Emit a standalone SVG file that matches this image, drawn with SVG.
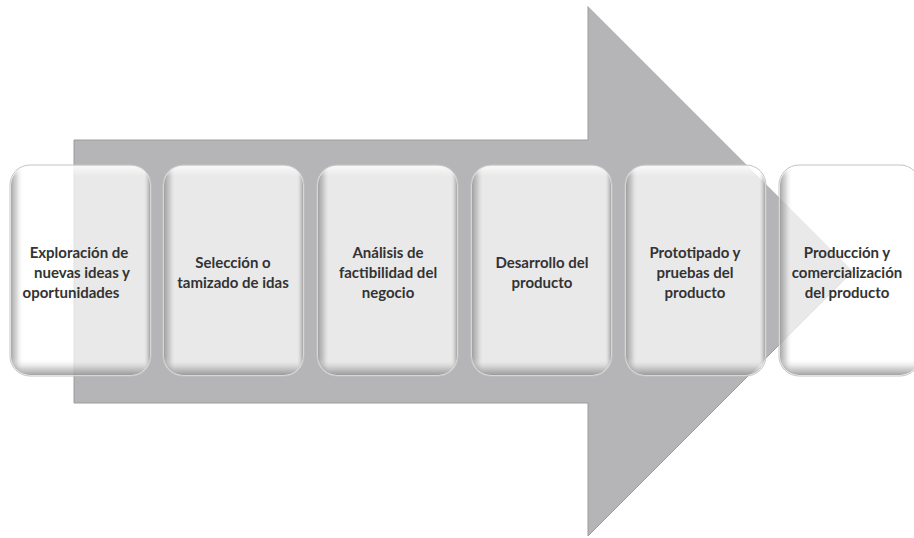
<svg xmlns="http://www.w3.org/2000/svg" width="914" height="538" viewBox="0 0 914 538">
  <defs>
    <linearGradient id="sideShade" x1="0" y1="0" x2="1" y2="0">
      <stop offset="0" stop-color="#6e6e6e" stop-opacity="0.6"/>
      <stop offset="0.04" stop-color="#8e8e8e" stop-opacity="0.35"/>
      <stop offset="0.09" stop-color="#ffffff" stop-opacity="0"/>
      <stop offset="0.95" stop-color="#ffffff" stop-opacity="0"/>
      <stop offset="0.985" stop-color="#8a8a8a" stop-opacity="0.35"/>
      <stop offset="1" stop-color="#6e6e6e" stop-opacity="0.55"/>
    </linearGradient>
    <linearGradient id="vertShade" x1="0" y1="0" x2="0" y2="1">
      <stop offset="0" stop-color="#ffffff" stop-opacity="0.7"/>
      <stop offset="0.05" stop-color="#ffffff" stop-opacity="0"/>
      <stop offset="0.92" stop-color="#ffffff" stop-opacity="0"/>
      <stop offset="0.97" stop-color="#8c8c8c" stop-opacity="0.4"/>
      <stop offset="1" stop-color="#666666" stop-opacity="0.6"/>
    </linearGradient>
    <style>
      .arrow { fill: #b5b5b7; stroke: #9c9c9e; stroke-width: 1; }
      .box { fill: #ffffff; fill-opacity: 0.7; stroke: #c4c4c4; stroke-width: 1; }
      .side { fill: url(#sideShade); }
      .vert { fill: url(#vertShade); }
      .lbl { font-family: Lato, "Open Sans", "Liberation Sans", sans-serif; font-weight: 700; font-size: 15px; fill: #333333; text-anchor: middle; }
    </style>
  </defs>

  <g id="arrow">
    <polygon class="arrow" points="74,140 588,140 588,6 853,271 588,536 588,403 74,403"/>
    <line x1="588" y1="6" x2="853" y2="271" stroke="#e8e8e8" stroke-width="1"/>
  </g>

  <g id="connectors"></g>

  <g id="n1">
    <rect class="box" x="10" y="165" width="141" height="211" rx="20"/>
    <rect class="side" x="11" y="166" width="139" height="209" rx="19"/>
    <rect class="vert" x="11" y="166" width="139" height="209" rx="19"/>
    <text class="lbl"><tspan x="79" y="258">Exploración de</tspan><tspan x="82" y="278">nuevas ideas y</tspan><tspan x="71" y="298">oportunidades</tspan></text>
  </g>

  <g id="n2">
    <rect class="box" x="163" y="165" width="141" height="211" rx="20"/>
    <rect class="side" x="164" y="166" width="139" height="209" rx="19"/>
    <rect class="vert" x="164" y="166" width="139" height="209" rx="19"/>
    <text class="lbl"><tspan x="233" y="268">Selección o</tspan><tspan x="233" y="288">tamizado de idas</tspan></text>
  </g>

  <g id="n3">
    <rect class="box" x="317" y="165" width="141" height="211" rx="20"/>
    <rect class="side" x="318" y="166" width="139" height="209" rx="19"/>
    <rect class="vert" x="318" y="166" width="139" height="209" rx="19"/>
    <text class="lbl"><tspan x="388" y="258">Análisis de</tspan><tspan x="388" y="278">factibilidad del</tspan><tspan x="388" y="298">negocio</tspan></text>
  </g>

  <g id="n4">
    <rect class="box" x="471" y="165" width="141" height="211" rx="20"/>
    <rect class="side" x="472" y="166" width="139" height="209" rx="19"/>
    <rect class="vert" x="472" y="166" width="139" height="209" rx="19"/>
    <text class="lbl"><tspan x="542" y="268">Desarrollo del</tspan><tspan x="542" y="288">producto</tspan></text>
  </g>

  <g id="n5">
    <rect class="box" x="625" y="165" width="141" height="211" rx="20"/>
    <rect class="side" x="626" y="166" width="139" height="209" rx="19"/>
    <rect class="vert" x="626" y="166" width="139" height="209" rx="19"/>
    <text class="lbl"><tspan x="695" y="258">Prototipado y</tspan><tspan x="695" y="278">pruebas del</tspan><tspan x="695" y="298">producto</tspan></text>
  </g>

  <g id="n6">
    <rect class="box" x="779" y="165" width="141" height="211" rx="20"/>
    <rect class="side" x="780" y="166" width="139" height="209" rx="19"/>
    <rect class="vert" x="780" y="166" width="139" height="209" rx="19"/>
    <text class="lbl"><tspan x="847" y="258">Producción y</tspan><tspan x="847" y="278">comercialización</tspan><tspan x="847" y="298">del producto</tspan></text>
  </g>
</svg>
